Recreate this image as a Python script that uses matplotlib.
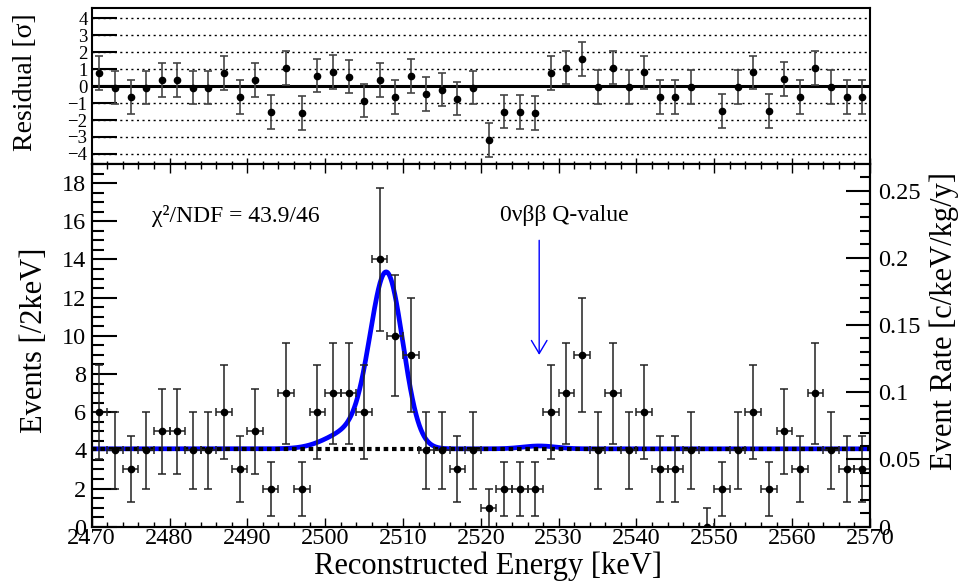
import numpy as np
import matplotlib.pyplot as plt

plt.rcParams['font.family'] = ['Liberation Serif', 'DejaVu Serif']

# bin centres [keV] and counts per 2 keV bin
energy = np.arange(2471, 2570, 2)
counts = [6, 4, 3, 4, 5, 5, 4, 4, 6, 3,
          5, 2, 7, 2, 6, 7, 7, 6, 14, 10,
          9, 4, 4, 3, 4, 1, 2, 2, 2, 6,
          7, 9, 4, 7, 4, 6, 3, 3, 4, 0,
          2, 4, 6, 2, 5, 3, 7, 4, 3, 3]

# residuals in sigma (empty bin at 2549 keV has none)
residuals = [0.79, -0.08, -0.65, -0.08, 0.36, 0.36, -0.08, -0.08, 0.79, -0.65,
             0.36, -1.52, 1.05, -1.58, 0.63, 0.85, 0.57, -0.85, 0.36, -0.65,
             0.59, -0.44, -0.20, -0.73, -0.08, -3.17, -1.50, -1.54, -1.60, 0.77,
             1.10, 1.63, -0.04, 1.10, -0.04, 0.81, -0.63, -0.63, -0.04, np.nan,
             -1.47, -0.04, 0.81, -1.47, 0.40, -0.63, 1.07, -0.04, -0.63, -0.63]

# fit result (events / 2 keV)
bkg = 4.08
peak_amp, peak_mu, peak_sigma = 9.0, 2507.9, 2.1
tail_amp, tail_mu, tail_sigma = 0.9, 2503.2, 3.0
sig_amp, q_value, sig_sigma = 0.15, 2527.5, 2.1

chi2_text = "χ²/NDF = 43.9/46"
rate_per_count = 0.0142  # c/keV/kg/y per event/2keV

counts = np.array(counts, dtype=float)
err_lo = np.sqrt(counts)
err_hi = np.where(counts > 0, np.sqrt(counts), 1.0)

E = np.linspace(2470, 2570, 2001)
fit = (bkg
       + peak_amp * np.exp(-0.5 * ((E - peak_mu) / peak_sigma) ** 2)
       + tail_amp * np.exp(-0.5 * ((E - tail_mu) / tail_sigma) ** 2)
       + sig_amp * np.exp(-0.5 * ((E - q_value) / sig_sigma) ** 2))

fig = plt.figure(figsize=(9.58, 5.86), dpi=100)
ax_res = fig.add_axes([0.0957, 0.7201, 0.8124, 0.2657])
ax = fig.add_axes([0.0957, 0.1012, 0.8124, 0.619])

# ---- residual panel
for v in range(-4, 5):
    ax_res.axhline(v, color='k', lw=1.0, ls=(0, (1.5, 2.5)), zorder=1)
ax_res.axhline(0, color='k', lw=2.2, zorder=2)
ax_res.errorbar(energy, residuals, yerr=1.0, fmt='o', color='k', ms=4.5,
                ecolor='#444444', elinewidth=1.2, capsize=3, capthick=1.2, zorder=3)
ax_res.set_xlim(2470, 2570)
ax_res.set_ylim(-4.6, 4.6)
ax_res.set_yticks(range(-4, 5))
ax_res.set_xticks(range(2470, 2571, 10))
ax_res.set_xticks(range(2470, 2571, 2), minor=True)
ax_res.tick_params(axis='y', direction='in', length=18, width=1.5, labelsize=13.5, pad=3)
ax_res.tick_params(axis='x', which='major', direction='in', length=4, width=1, labelbottom=False)
ax_res.tick_params(axis='x', which='minor', direction='in', length=2.2, width=1)
for s in ax_res.spines.values():
    s.set_linewidth(1.5)

# ---- main panel
ax.plot(E, fit, color='#0000ff', lw=3.4, zorder=2)
ax.plot([2470, 2570], [bkg, bkg], color='k', lw=3.0, ls=(0, (1.1, 0.9)), zorder=3)
ax.errorbar(energy, counts, yerr=[err_lo, err_hi], xerr=1.0, fmt='o', color='k',
            ms=4.5, ecolor='#222222', elinewidth=1.1, capsize=3, capthick=1.1, zorder=4)
ax.set_xlim(2470, 2570)
ax.set_ylim(0, 19)
ax.set_xticks(range(2470, 2571, 10))
ax.set_xticks(range(2470, 2571, 2), minor=True)
ax.set_yticks(range(0, 19, 2))
ax.set_yticks(np.arange(0, 19.01, 0.5), minor=True)
ax.tick_params(axis='x', which='major', direction='in', length=6.5, width=1,
               top=True, labelsize=17.5, pad=1)
ax.tick_params(axis='x', which='minor', direction='in', length=3.5, width=1, top=True)
ax.tick_params(axis='y', which='major', direction='in', length=18, width=1.5,
               labelsize=17.5, pad=4)
ax.tick_params(axis='y', which='minor', direction='in', length=8.5, width=1.5)
for s in ax.spines.values():
    s.set_linewidth(1.5)

ax2 = ax.twinx()
ax2.set_ylim(0, 19 * rate_per_count)
ax2.set_yticks([0, 0.05, 0.1, 0.15, 0.2, 0.25])
ax2.set_yticklabels(['0', '0.05', '0.1', '0.15', '0.2', '0.25'])
ax2.set_yticks(np.arange(0, 0.27, 0.01), minor=True)
ax2.tick_params(axis='y', which='major', direction='in', length=17, width=1.5,
                labelsize=17.5, pad=6)
ax2.tick_params(axis='y', which='minor', direction='in', length=7.5, width=1.5)
for s in ax2.spines.values():
    s.set_linewidth(1.5)

ax.text(2477.7, 16.3, chi2_text, fontsize=17, va='center', ha='left')
ax.text(2522.5, 16.3, "0νββ Q-value", fontsize=17, va='center', ha='left')
ax.annotate('', xy=(q_value, 9.0), xytext=(q_value, 15.0),
            arrowprops=dict(arrowstyle='->,head_length=0.47,head_width=0.28',
                            color='#0000ff', lw=1.0, mutation_scale=20,
                            shrinkA=0, shrinkB=0))

fig.text(0.509, 0.034, "Reconstructed Energy [keV]", fontsize=22, ha='center', va='center')
fig.text(0.036, 0.42, "Events [/2keV]", fontsize=22, rotation=90, ha='center', va='center')
fig.text(0.986, 0.452, "Event Rate [c/keV/kg/y]", fontsize=22, rotation=90,
         ha='center', va='center')
fig.text(0.027, 0.86, "Residual [σ]", fontsize=20, rotation=90, ha='center', va='center')

fig.savefig('out.png', dpi=100)
